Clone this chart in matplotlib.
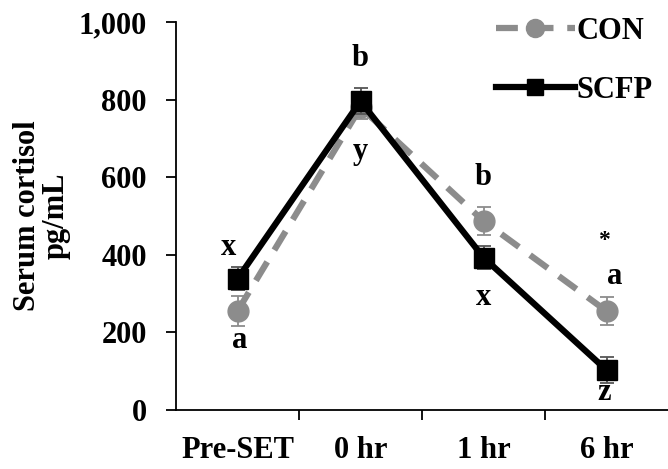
import numpy as np
import matplotlib.pyplot as plt
from matplotlib.lines import Line2D

plt.rcParams['font.family'] = ['Liberation Serif', 'DejaVu Serif']
plt.rcParams['font.weight'] = 'bold'

categories = ['Pre-SET', '0 hr', '1 hr', '6 hr']
con = [255, 780, 487, 255]
con_err = [38, 30, 37, 36]
scfp = [338, 796, 393, 103]
scfp_err = [30, 34, 29, 33]

# significance letters: (x position, y value, text)
con_letters = [(0.02, 180, 'a'), (1.0, 907, 'b'), (2.0, 600, 'b'), (3.07, 343, 'a')]
scfp_letters = [(-0.07, 420, 'x'), (1.0, 665, 'y'), (2.0, 289, 'x'), (2.98, 46, 'z')]
star = (2.98, 438, '*')

gray = '#8c8c8c'
fig = plt.figure(figsize=(6.68, 4.69), dpi=100)
ax = fig.add_axes([176/668, 59/469, 492/668, 388/469])
x = np.arange(len(categories))

ax.errorbar(x, con, yerr=con_err, color=gray, lw=4.5, dashes=(3.5, 2.2),
            marker='o', ms=15, capsize=5, elinewidth=1.3, capthick=1.3,
            ecolor=gray, zorder=2)
ax.errorbar(x, scfp, yerr=scfp_err, color='black', lw=4.5, marker='s', ms=14,
            capsize=5, elinewidth=1.3, capthick=1.3, ecolor='#555555', zorder=3)

fs = 22
for xp, y, t in con_letters + scfp_letters:
    ax.text(xp, y, t, ha='center', va='center', fontsize=fs, fontweight='bold')
ax.text(star[0], star[1], star[2], ha='center', va='center', fontsize=17, fontweight='bold')

ax.set_xlim(-0.5, 3.5)
ax.set_ylim(0, 1000)
ax.set_yticks([0, 200, 400, 600, 800, 1000])
ax.set_yticklabels(['0', '200', '400', '600', '800', '1,000'])
ax.set_xticks([0.5, 1.5, 2.5])
ax.set_xticklabels([])
ax.set_xticks(x, minor=True)
ax.set_xticklabels(categories, minor=True)
ax.tick_params(axis='x', which='minor', length=0, pad=19, labelsize=22)
ax.tick_params(axis='x', which='major', length=7, width=1.3, direction='out')
ax.tick_params(axis='y', length=7, width=1.3, direction='out', labelsize=22, pad=14)
for s in ['top', 'right']:
    ax.spines[s].set_visible(False)
for s in ['left', 'bottom']:
    ax.spines[s].set_linewidth(1.3)
ax.set_ylabel('Serum cortisol\npg/mL', fontsize=22, fontweight='bold', labelpad=6,
              linespacing=0.95)

handles = [
    Line2D([], [], color=gray, lw=4.5, dashes=(3.5, 2.2), marker='o', ms=13),
    Line2D([], [], color='black', lw=4.5, marker='s', ms=12),
]
ax.legend(handles, ['CON', 'SCFP'], loc='upper right', bbox_to_anchor=(1.025, 1.085),
          frameon=False, fontsize=22, handlelength=2.6, handletextpad=0.05,
          labelspacing=1.0)

fig.savefig('out.png', dpi=100)
